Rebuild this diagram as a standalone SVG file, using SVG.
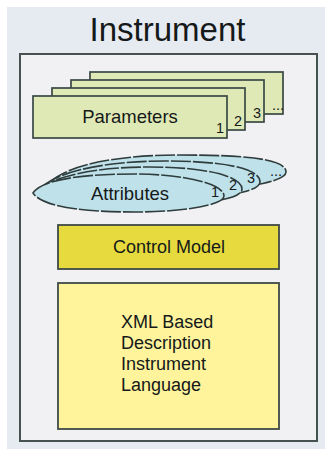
<svg xmlns="http://www.w3.org/2000/svg" width="325" height="449" viewBox="0 0 325 449">
  <style>
    .lbl { font-family: "Liberation Sans", Arial, sans-serif; fill: #151919; }
    .card { fill: #dfe9b6; stroke: #3a4845; stroke-width: 1.7; }
    .ell { fill: #bfe1ea; stroke: #2f3c3c; stroke-width: 1.6; stroke-dasharray: 20 2; }
    .num { font-family: "Liberation Sans", Arial, sans-serif; font-size: 14.5px; fill: #151919; }
  </style>
  <rect x="0" y="0" width="325" height="449" fill="#ffffff"/>
  <rect x="7" y="7" width="318" height="442" fill="#e5ebf1"/>
  <g id="instrument">
    <rect x="20" y="54" width="297" height="387" fill="#f1f1f4" stroke="#45524f" stroke-width="2"/>
    <text class="lbl" x="167.5" y="41" font-size="33" text-anchor="middle">Instrument</text>
  </g>
  <g id="parameters">
    <rect class="card" x="90" y="72" width="193" height="42"/>
    <text class="num" x="272" y="110">...</text>
    <rect class="card" x="71" y="80" width="193" height="42"/>
    <text class="num" x="253" y="118">3</text>
    <rect class="card" x="52" y="88" width="193" height="42"/>
    <text class="num" x="234" y="126">2</text>
    <rect class="card" x="33" y="96" width="194" height="42"/>
    <text class="num" x="216" y="133">1</text>
    <text class="lbl" x="130" y="123" font-size="18.5" text-anchor="middle">Parameters</text>
  </g>
  <g id="attributes">
    <path class="ell" d="M50,182 C70,164 120,155 180,155 C240,155 286,158 286,172 C286,182 240,190 180,190 C130,190 80,188 50,182 Z"/>
    <text class="num" x="270" y="176">...</text>
    <path class="ell" d="M43,186 C62,170 110,161 165,161 C222,161 260,168 260,182 C260,192 222,198 165,198 C115,198 70,194 43,186 Z"/>
    <text class="num" x="247" y="183">3</text>
    <path class="ell" d="M37,190 C55,176 95,167 150,167 C205,167 242,176 242,189 C242,199 205,205 150,205 C100,205 60,200 37,190 Z"/>
    <text class="num" x="229" y="190">2</text>
    <path class="ell" d="M33,193 C40,182 70,174 135,174 C184,174 224,184 224,196 C224,205 184,212 135,212 C70,212 40,204 33,193 Z"/>
    <text class="num" x="211" y="197">1</text>
    <text class="lbl" x="130" y="200" font-size="18.5" text-anchor="middle">Attributes</text>
  </g>
  <g id="control-model">
    <rect x="58" y="225" width="221" height="44" fill="#e6da3e" stroke="#3e4a46" stroke-width="1.8"/>
    <text class="lbl" x="169" y="253" font-size="18" text-anchor="middle">Control Model</text>
  </g>
  <g id="xml-language">
    <rect x="58" y="283" width="221" height="146" fill="#fff49c" stroke="#3e4a46" stroke-width="1.8"/>
    <text class="lbl" x="121" y="328" font-size="18">XML Based</text>
    <text class="lbl" x="121" y="349" font-size="18">Description</text>
    <text class="lbl" x="121" y="370" font-size="18">Instrument</text>
    <text class="lbl" x="121" y="391" font-size="18">Language</text>
  </g>
  <g id="connectors"></g>
</svg>
